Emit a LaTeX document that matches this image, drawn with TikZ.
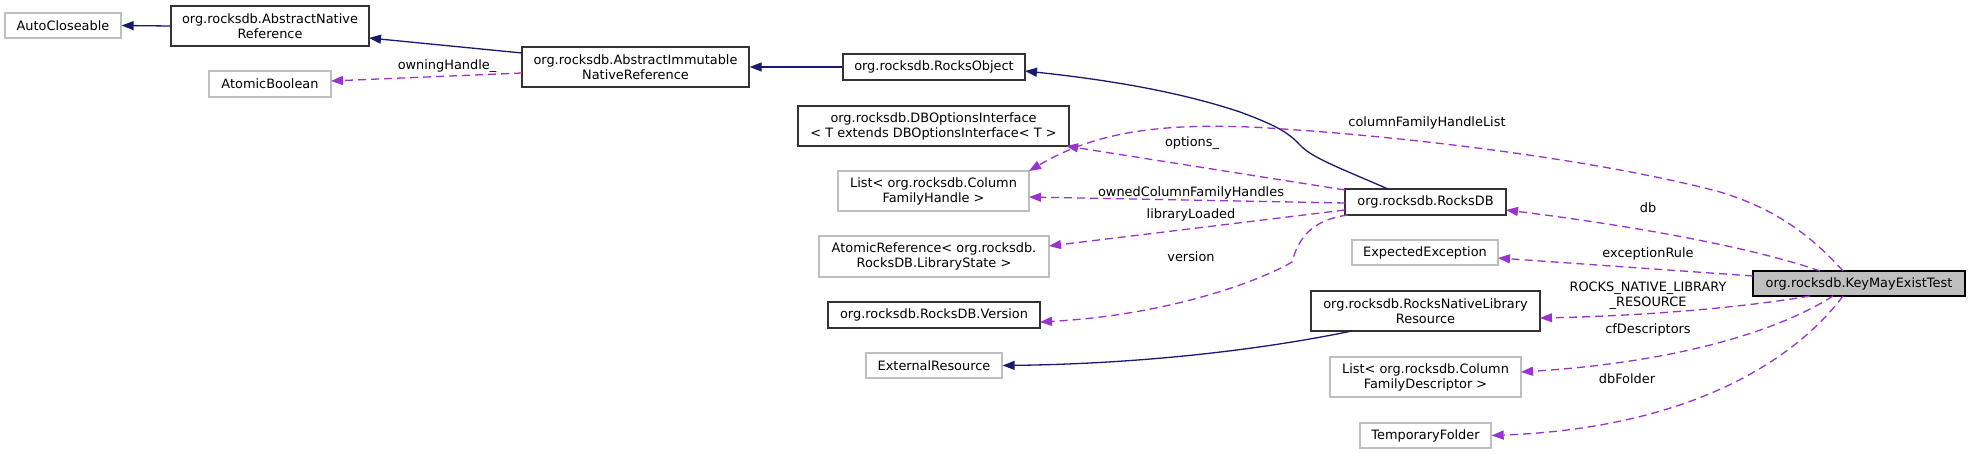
\documentclass[tikz,border=0pt]{standalone}
\usepackage{fontspec}
\setmainfont{DejaVu Sans}
\usetikzlibrary{arrows.meta,calc}
\definecolor{inhc}{HTML}{191970}
\definecolor{usec}{HTML}{9A32CD}
\definecolor{grayb}{HTML}{BFBFBF}
\definecolor{darkb}{HTML}{333333}
\newcommand{\dfont}{\fontsize{12.9}{15}\selectfont}
\begin{document}
\begin{tikzpicture}[x=1pt,y=-1pt,
  box/.style={draw=darkb,line width=1.3pt,fill=white,inner sep=0pt,align=center,font=\dfont},
  gbox/.style={box,draw=grayb},
  root/.style={box,draw=black,fill=grayb},
  inh/.style={draw=inhc,line width=1.3pt,-{Triangle[length=12pt,width=9pt]}},
  use/.style={draw=usec,line width=1.3pt,dash pattern=on 8pt off 5pt,-{Triangle[length=12pt,width=9pt]}},
  lbl/.style={font=\dfont,inner sep=0pt,align=center}]
\fill[white] (0,0) rectangle (1971,454);
\useasboundingbox (0,0) rectangle (1971,454);

% nodes
\node[gbox,minimum width=116pt,minimum height=25pt] (ac) at (63,25.5) {AutoCloseable};
\node[box,minimum width=198pt,minimum height=40pt] (anr) at (270,26) {org.rocksdb.AbstractNative\\Reference};
\node[gbox,minimum width=122pt,minimum height=26pt] (ab) at (270,84) {AtomicBoolean};
\node[box,minimum width=227pt,minimum height=40pt] (aimr) at (635.5,67) {org.rocksdb.AbstractImmutable\\NativeReference};
\node[box,minimum width=182pt,minimum height=26pt] (robj) at (934,67) {org.rocksdb.RocksObject};
\node[box,minimum width=271pt,minimum height=40pt] (dbo) at (933.5,126) {org.rocksdb.DBOptionsInterface\\< T extends DBOptionsInterface< T >};
\node[gbox,minimum width=191pt,minimum height=40pt] (lcfh) at (933.5,191) {List< org.rocksdb.Column\\FamilyHandle >};
\node[gbox,minimum width=230pt,minimum height=41pt] (aref) at (934,256.5) {AtomicReference< org.rocksdb.\\RocksDB.LibraryState >};
\node[box,minimum width=212pt,minimum height=26pt] (ver) at (934,315) {org.rocksdb.RocksDB.Version};
\node[gbox,minimum width=136pt,minimum height=25pt] (ext) at (934,365.5) {ExternalResource};
\node[box,minimum width=161pt,minimum height=26pt] (rdb) at (1425.5,202) {org.rocksdb.RocksDB};
\node[gbox,minimum width=146pt,minimum height=25pt] (ee) at (1425,252.5) {ExpectedException};
\node[box,minimum width=229pt,minimum height=40pt] (rnlr) at (1425.5,311) {org.rocksdb.RocksNativeLibrary\\Resource};
\node[gbox,minimum width=191pt,minimum height=40pt] (lcfd) at (1425.5,377) {List< org.rocksdb.Column\\FamilyDescriptor >};
\node[gbox,minimum width=131pt,minimum height=25pt] (tf) at (1425.5,435.5) {TemporaryFolder};
\node[root,minimum width=212pt,minimum height=25pt] (kmet) at (1859,283.5) {org.rocksdb.KeyMayExistTest};

% inheritance edges
\draw[inh] (anr.west) -- (ac.east);
\draw[inh] ($(aimr)+(-113.5,-14)$) -- ($(anr)+(99,12)$);
\draw[inh] (robj.west) -- (aimr.east);
\draw[inh] ($(rdb)+(-37.5,-13)$) .. controls (1340,168) and (1312,158) .. (1300,145)
  .. controls (1288,132) and (1275,125) .. (1240,112)
  .. controls (1180,92) and (1110,80) .. ($(robj)+(91,4)$);
\draw[inh] ($(rnlr)+(-73.5,20)$) .. controls (1250,352) and (1130,364) .. (ext.east);

% usage edges
\draw[use] ($(aimr)+(-113.5,6)$) -- ($(ab)+(61,-3)$);
\draw[use] ($(rdb)+(-80.5,-12)$) -- ($(dbo)+(132.5,20)$);
\draw[use] ($(rdb)+(-80.5,1)$) -- ($(lcfh)+(95.5,6)$);
\draw[use] ($(rdb)+(-80.5,8)$) -- ($(aref)+(115,-10.5)$);
\draw[use] ($(rdb)+(-77.5,13)$) .. controls (1310,220) and (1298,240) .. (1292,262)
  .. controls (1262,280) and (1170,315) .. ($(ver)+(106,7)$);
\draw[use] ($(kmet)+(-16,-12.5)$) .. controls (1815,240) and (1780,210) .. (1720,192)
  .. controls (1600,160) and (1400,135) .. (1250,127)
  .. controls (1150,123) and (1090,135) .. ($(lcfh)+(95.5,-20)$);
\draw[use] ($(kmet)+(-39,-12.5)$) .. controls (1760,250) and (1650,228) .. ($(rdb)+(80.5,8)$);
\draw[use] ($(kmet)+(-106,-7.5)$) -- ($(ee)+(73,5.5)$);
\draw[use] ($(kmet)+(-49,12.5)$) .. controls (1740,308) and (1640,316) .. ($(rnlr)+(114.5,7)$);
\draw[use] ($(kmet)+(-26,12.5)$) .. controls (1780,330) and (1680,362) .. ($(lcfd)+(95.5,-5)$);
\draw[use] ($(kmet)+(-16,12.5)$) .. controls (1795,360) and (1690,428) .. (tf.east);

% labels
\node[lbl] (l1) at (447,66) {owningHandle\_};
\node[lbl] (l2) at (1192,143) {options\_};
\node[lbl] (l3) at (1191,193) {ownedColumnFamilyHandles};
\node[lbl] (l4) at (1191,215) {libraryLoaded};
\node[lbl] (l5) at (1191,257) {version};
\node[lbl] (l6) at (1427,123) {columnFamilyHandleList};
\node[lbl] (l7) at (1648,208) {db};
\node[lbl] (l8) at (1648,254) {exceptionRule};
\node[lbl] (l9) at (1648,295.5) {ROCKS\_NATIVE\_LIBRARY\\\_RESOURCE};
\node[lbl] (l10) at (1648,330) {cfDescriptors};
\node[lbl] (l11) at (1627,379) {dbFolder};
\end{tikzpicture}
\end{document}
